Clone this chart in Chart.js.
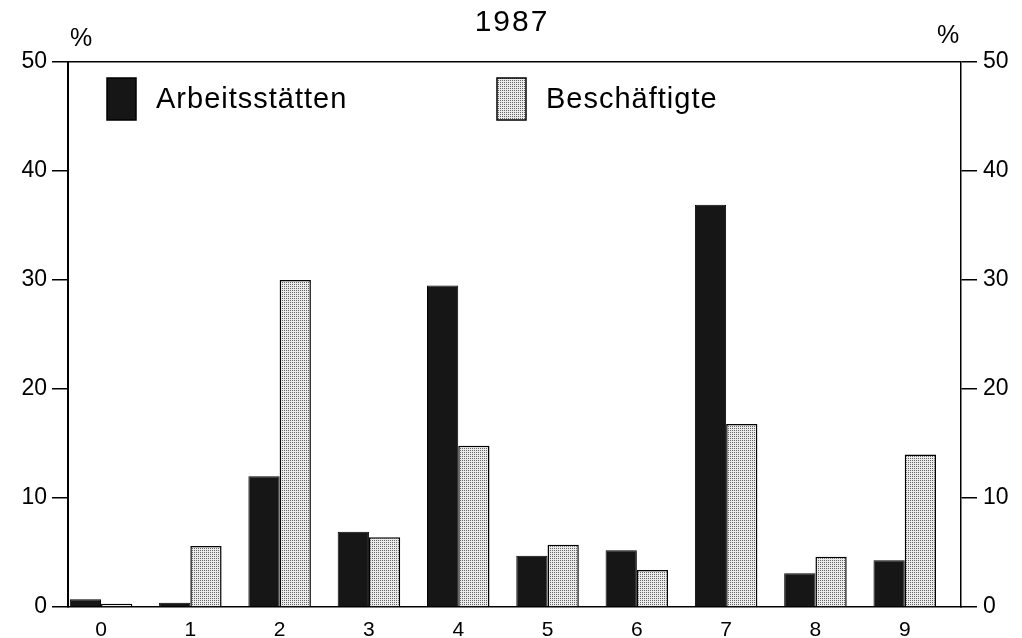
<!DOCTYPE html>
<html>
<head>
<meta charset="utf-8">
<script src="https://cdn.jsdelivr.net/npm/chart.js@4/dist/chart.umd.min.js"></script>
<style>
  html, body { margin: 0; padding: 0; background: #fff; }
  #wrap { width: 1022px; height: 638px; position: relative; }
</style>
</head>
<body>
<div id="wrap"><canvas id="myChart"></canvas></div>
<script>
// Werte
const titel = '1987';
const categories = ['0', '1', '2', '3', '4', '5', '6', '7', '8', '9'];
const arbeitsstaetten = [0.7, 0.4, 12.0, 6.9, 29.5, 4.7, 5.2, 36.9, 3.1, 4.3];
const beschaeftigte = [0.3, 5.6, 30.0, 6.4, 14.8, 5.7, 3.4, 16.8, 4.6, 14.0];
const serienNamen = ['Arbeitsstätten', 'Beschäftigte'];
const yMin = 0, yMax = 50, yStep = 10;

const FONT = '"Liberation Sans", Arial, sans-serif';

// gepunktetes Raster fuer die hellen Balken
function punktMuster() {
    const c = document.createElement('canvas');
    c.width = 2; c.height = 2;
    const g = c.getContext('2d');
    g.fillStyle = '#ebebeb';
    g.fillRect(0, 0, 2, 2);
    g.fillStyle = '#666';
    g.fillRect(0, 0, 1, 1);
    return g.createPattern(c, 'repeat');
}
const hell = punktMuster();
const dunkel = '#161616';

// Titel, Prozentzeichen und Legende im Diagramm
const beschriftung = {
    id: 'beschriftung',
    afterDraw(chart) {
        const ctx = chart.ctx;
        const a = chart.chartArea;
        ctx.save();
        ctx.fillStyle = '#000';
        ctx.textBaseline = 'middle';

        ctx.letterSpacing = '2px';
        ctx.font = '30px ' + FONT;
        ctx.textAlign = 'center';
        ctx.fillText(titel, 512, 23);

        ctx.letterSpacing = '0px';
        ctx.font = '25px ' + FONT;
        ctx.fillText('%', a.left + 13, 39);
        ctx.fillText('%', a.right - 13, 36);

        const pos = [107, 497];
        ctx.font = '29px ' + FONT;
        ctx.letterSpacing = '1px';
        ctx.textAlign = 'left';
        chart.data.datasets.forEach((ds, i) => {
            const x = pos[i], y = 78;
            ctx.fillStyle = ds.backgroundColor;
            ctx.fillRect(x, y, 29, 42);
            ctx.lineWidth = 1.5;
            ctx.strokeStyle = '#000';
            ctx.strokeRect(x, y, 29, 42);
            ctx.fillStyle = '#000';
            ctx.fillText(ds.label, x + 49, 100);
        });
        ctx.restore();
    }
};

const ctx = document.getElementById('myChart').getContext('2d');
const myChart = new Chart(ctx, {
    type: 'bar',
    data: {
        labels: categories,
        datasets: [
            {
                label: serienNamen[0],
                data: arbeitsstaetten.map((v, i) => ({ x: i, y: v })),
                backgroundColor: dunkel,
                borderColor: '#000',
                borderWidth: 1
            },
            {
                label: serienNamen[1],
                data: beschaeftigte.map((v, i) => ({ x: i, y: v })),
                backgroundColor: hell,
                borderColor: '#000',
                borderWidth: 1.5
            }
        ]
    },
    options: {
        responsive: true,
        maintainAspectRatio: false,
        animation: false,
        categoryPercentage: 0.7,
        barPercentage: 1.0,
        layout: { padding: { top: 62, left: 0, right: 0, bottom: 0 } },
        plugins: {
            legend: { display: false },
            title: { display: false },
            tooltip: { enabled: false }
        },
        scales: {
            x: {
                type: 'linear',
                min: -0.37,
                max: 9.63,
                offset: false,
                afterBuildTicks: s => { s.ticks = categories.map((c, i) => ({ value: i })); },
                afterFit: s => { s.height = 31; },
                grid: { display: false, drawTicks: false },
                border: { display: true, color: '#000', width: 1.5 },
                ticks: {
                    autoSkip: false,
                    maxRotation: 0,
                    padding: 11,
                    color: '#000',
                    font: { family: FONT, size: 21 },
                    callback: v => categories[v]
                }
            },
            y: {
                position: 'left',
                min: yMin,
                max: yMax,
                afterFit: s => { s.width = 68; },
                grid: {
                    drawOnChartArea: true,
                    color: c => (c.tick && c.tick.value === yMax ? '#000' : 'rgba(0,0,0,0)'),
                    tickColor: '#000',
                    tickLength: 16,
                    lineWidth: 1.5
                },
                border: { display: true, color: '#000', width: 2 },
                ticks: {
                    stepSize: yStep,
                    padding: 5,
                    color: '#000',
                    font: { family: FONT, size: 23 }
                }
            },
            y2: {
                display: true,
                position: 'right',
                min: yMin,
                max: yMax,
                afterFit: s => { s.width = 61; },
                grid: {
                    drawOnChartArea: false,
                    tickColor: '#000',
                    tickLength: 16,
                    lineWidth: 1.5
                },
                border: { display: true, color: '#000', width: 1.5 },
                ticks: {
                    stepSize: yStep,
                    padding: 6,
                    color: '#000',
                    font: { family: FONT, size: 23 }
                }
            }
        }
    },
    plugins: [beschriftung]
});
</script>
</body>
</html>
